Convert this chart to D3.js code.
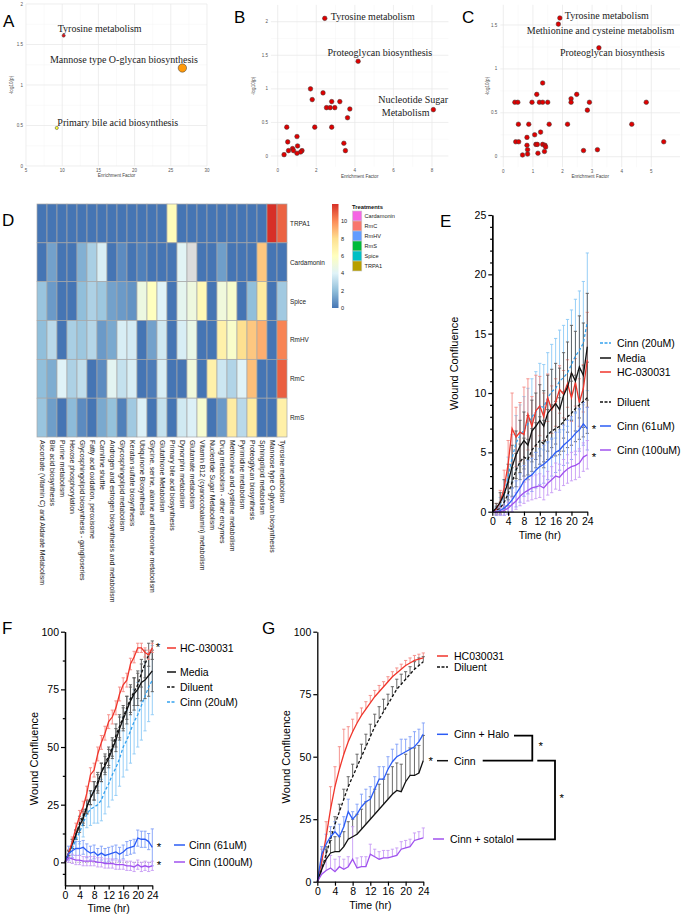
<!DOCTYPE html>
<html>
<head>
<meta charset="utf-8">
<script src="https://cdn.jsdelivr.net/npm/d3@7"></script>
<style>
  body { margin: 0; background: #fff; }
  svg { display: block; }
</style>
</head>
<body>
<svg id="SVG_CONTAINER" width="683" height="919"></svg>
<script>
// ---------------- data ----------------
// panel A
const aNames  = ["Tyrosine metabolism", "Mannose type O-glycan biosynthesis", "Primary bile acid biosynthesis"];
const aFactor = [10.2, 26.6, 9.25];
const aLogP   = [1.61, 1.21, 0.47];
const aHits   = [2, 14, 2];

// panel B (first three are labelled)
const bNames  = ["Tyrosine metabolism", "Proteoglycan biosynthesis", "Nucleotide Sugar|Metabolism"];
const bFactor = [2.44,4.17,8.07,1.70,1.79,2.35,2.53,2.72,2.80,2.96,3.22,3.74,3.62,1.92,2.80,0.47,1.00,0.52,1.03,0.77,0.56,0.82,1.26,1.19,1.00,0.33,3.43,3.51];
const bLogP   = [2.05,1.41,0.69,1.00,0.84,0.94,0.72,0.72,0.81,0.72,0.81,0.70,0.57,0.43,0.43,0.43,0.29,0.21,0.15,0.11,0.08,0.08,0.08,0.06,0.04,0.02,0.19,0.08];

// panel C
const cNames  = ["Tyrosine metabolism", "Methionine and cysteine metabolism", "Proteoglycan biosynthesis"];
const cFactor = [1.91,1.86,3.23,0.39,0.49,0.97,1.22,1.33,1.50,2.91,4.83,1.13,2.48,2.29,2.29,2.84,1.33,0.51,0.86,1.55,2.17,4.34,1.06,1.26,0.80,0.42,0.52,5.42,0.80,1.10,1.15,1.33,1.41,1.43,0.82,0.82,0.65,1.17,1.39,2.71,3.18];
const cLogP   = [1.58,1.51,1.24,0.62,0.62,0.62,0.62,0.62,0.62,0.62,0.62,0.71,0.71,0.66,0.62,0.53,0.84,0.37,0.37,0.37,0.37,0.37,0.25,0.28,0.22,0.17,0.17,0.17,0.13,0.14,0.14,0.14,0.13,0.11,0.08,0.03,0.02,0.04,0.06,0.07,0.08];

// panel D heatmap
const hmPathways = ["Ascorbate (Vitamin C) and Aldarate Metabolism","Bile acid biosynthesis","Purine metabolism",
  "Hexose phosphorylation","Glycosphingolipid biosynthesis - ganglioseries","Fatty acid oxidation, peroxisome",
  "Carnitine shuttle","Androgen and estrogen biosynthesis and metabolism","Glycosphingolipid metabolism",
  "Keratan sulfate biosynthesis","Ubiquinone Biosynthesis","Glycine, serine, alanine and threonine metabolism",
  "Glutathione Metabolism","Primary bile acid biosynthesis","Dynorphin metabolism","Glutamate metabolism",
  "Vitamin B12 (cyanocobalamin) metabolism","Nucleotide Sugar Metabolism","Drug metabolism - other enzymes",
  "Methionine and cysteine metabolism","Pyrimidine metabolism","Proteoglycan biosynthesis",
  "Sphingolipid metabolism","Mannose type O-glycan biosynthesis","Tyrosine metabolism"];
const hmRows = ["TRPA1", "Cardamonin", "Spice", "RmHV", "RmC", "RmS"];
const hmTRPA1      = [0,0,0,0,0,0,0,0,0,0,0,0,0,6.2,0,0,0,0,0,0,0,0,0,12.0,10.9];
const hmCardamonin = [0,1.2,0,0,1.6,2.6,3.8,0,0.6,0,0.3,0,0,0,4.1,null,0,0,1.1,0,0,0,8.6,0,0];
const hmSpice      = [2.2,1.0,0,0,2.0,2.7,2.3,1.2,1.0,0.8,4.8,6.0,4.0,0,4.3,4.9,6.4,0,5.0,5.5,0,2.0,7.3,0,2.4];
const hmRmHV       = [2.0,3.0,0,2.6,2.3,2.9,1.0,1.4,3.8,3.7,0,1.2,3.6,0,3.8,4.6,0,0,6.9,5.6,8.0,8.6,9.2,0,10.2];
const hmRmC        = [2.0,1.5,4.0,2.7,3.2,0,0.6,4.2,3.3,3.8,0,0.2,3.8,0,0,5.0,0,6.9,3.5,2.8,4.0,8.8,0,0,11.0];
const hmRmS        = [2.2,1.1,0,1.9,0.6,0,1.4,2.1,0.3,2.4,3.9,0,3.3,0,3.6,3.9,5.4,0,1.0,7.2,3.0,7.3,0,0,7.0];
const hmTicks = [0, 2, 4, 6, 8, 10];
const treatments = ["Cardamonin", "RmC", "RmHV", "RmS", "Spice", "TRPA1"];

// panels E, F, G : hours 0..24
const hours = d3.range(0, 25);

const eCinn20    = [0,0.2,0.6,1.5,3,4.5,5.8,6.4,6.9,7.4,8.0,8.4,8.9,8.8,9.6,10.1,10.4,11.0,11.3,11.7,12.4,13.1,13.6,14.2,16.0];
const eCinn20Err = [0,0.3,0.6,1.2,1.6,2,2.3,2.6,2.8,3,3.2,3.4,3.6,3.6,3.8,4,4.2,4.3,4.4,4.5,4.6,4.8,5,5.2,5.8];
const eMedia     = [0,0.3,0.8,1.5,2.5,3.8,4.8,5.5,6.0,5.6,6.8,7.2,7.7,7.2,8.3,8.7,9.1,8.6,9.8,10.5,11.7,11.0,12.2,11.5,13.9];
const eMediaErr  = [0,0.4,0.8,1.2,1.5,1.8,2.0,2.2,2.4,2.5,2.6,2.8,3.0,3.0,3.2,3.3,3.4,3.5,3.6,3.8,4.0,4.2,4.3,4.4,4.5];
const eHC        = [0,0.2,0.8,2.0,4.0,7.0,6.3,6.7,6.5,8.2,7.2,8.5,8.9,8.0,9.6,8.6,9.2,10.3,9.9,10.8,9.6,10.9,9.2,10.4,12.8];
const eHCErr     = [0,0.5,1,1.5,2,3,2.5,2.5,4,3,2.5,3,2.5,2,2,2,2,2,2,2,2,2,2,2,4];
const eDiluent   = [0,0.1,0.3,0.8,1.5,2.5,3.5,4.2,4.6,4.4,5.2,5.6,6.0,5.7,6.5,6.8,7.0,7.2,7.6,8.0,8.3,8.7,9.0,9.3,9.6];
const eDilErr    = [0,0.3,0.5,0.8,1,1.2,1.4,1.5,1.6,1.7,1.8,1.9,2,2,2.1,2.2,2.3,2.4,2.5,2.6,2.7,2.8,2.9,3,3];
const eCinn61    = [0,0,0.1,0.3,0.6,1.0,1.5,2.0,2.6,2.9,3.1,3.5,3.8,4.0,4.3,4.6,5.0,5.2,5.6,5.9,6.2,6.6,6.9,7.4,7.0];
const eCinn61Err = [0,0.3,0.4,0.6,0.8,1,1.1,1.2,1.3,1.4,1.4,1.5,1.5,1.6,1.6,1.6,1.7,1.7,1.7,1.8,1.8,1.8,1.8,1.8,1.8];
const eCinn100   = [0,0,0,0.1,0.3,0.6,0.9,1.3,1.6,1.8,2.0,2.1,2.2,2.0,2.4,2.7,3.0,2.9,3.3,3.6,3.8,3.9,4.1,4.6,4.8];
const eCinn100Err= [0,0.2,0.3,0.4,0.5,0.6,0.7,0.8,0.9,0.9,1,1,1,1,1,1.1,1.1,1.1,1.1,1.2,1.2,1.2,1.2,1.2,1.2];

const fHC        = [0,4,9,15,20,24,30,38,40,47,52,56,61,63,67,73,77,79,86,89,93,93,91,90,93];
const fHCErr     = [0,1.5,2,2,2.5,2.5,3,3,3,3,3,3,3,3,3,3,3,3,2.5,2.5,2,2,2,2,2];
const fMedia     = [0,4,8,12,16,19,24,28,31,34,39,42,45,49,53,58,62,66,70,73,75,78,79,81,83];
const fMediaErr  = [0,1,2,2,3,3,3,3,4,4,4,4,4,4,5,5,5,6,6,7,7,8,8,9,9];
const fDiluent   = [0,4,8,12,17,20,24,28,31,35,39,43,46,50,55,59,63,67,71,74,77,82,86,90,92];
const fDilErr    = [0,1,2,2,3,3,3,3,4,4,4,4,4,4,5,5,5,5,6,6,6,6,6,5,4];
const fCinn20    = [0,3,6,10,13,17,21,23,24,25,27,31,34,38,41,45,50,53,57,61,64,68,72,76,79];
const fCinn20Err = [0,2,3,4,5,6,6,7,7,8,9,10,10,11,12,12,13,13,14,14,14,15,15,15,15];
const fCinn61    = [0,4,5,6,6,6.5,5,4,4.5,3,4,3,3.5,4,4.5,3.5,4.5,6,6.5,7,10.5,10,10,9,6.5];
const fCinn61Err = [0,3,3,3,3,3,3,3,3,3,3,3,3,3,3,3,3,3,3,3,3.5,3.5,3.5,3.5,8];
const fCinn100   = [0,2,1.5,1,1,0.5,0.5,0.5,0.5,0,0,-0.5,-0.5,-0.5,-1,-1,-1,-1.5,-1.5,-2,-1,-2,-1.5,-2,-1.5];
const fCinn100Err= [0,2,2,2,2,2,2,2,2,2,2,2,2,2,2,2,2,2,2,2,2,2,2,2,2];

const gHC        = [0,8,18,29,38,45,51,56,60,63.5,66.5,69,71.5,74,76,78,80,82,83.5,85,86.5,87.5,88.5,89,89.5];
const gHCErr     = [0,5,6,9,8,9,10,6,5,4,3,3,3,2.5,2.5,2,2,2,2,2,2,2,2,2,2];
const gDiluent   = [0,5,11,17,23,28,33,38,42,46,50,54,58,62,65,68,71,74,77,79,81,83,85,86.5,88];
const gDilErr    = [0,2,3,3,3,3,4,4,5,5,5,5,5,5,5,5,4,4,4,4,3,3,3,3,2];
const gHalo      = [0,11,15,18,20,18,22,28,25,27,30,32,33,37,41,41,45,48,50,51,52,53,54,56,59];
const gHaloErr   = [0,3,4,4,4,5,4,5,3,4,5,5,5,5,5,5,5,5,5,6,5,5,6,5,4.5];
const gCinn      = [0,5,9,11.5,12,12,14,17,18,19,21,23,25,27,29,31,33,35,36.5,36,40,42.5,42.5,43.5,48.5];
const gCinnErr   = [0,4,4,5,6,6,6,7,7,8,8,9,9,10,10,10,10,11,11,11,11,11,11,11,10];
const gSotalol   = [0,3,4.5,5.5,4,6,5,6,9,5.5,6,6,11,10,9,9.5,9.5,10,10.5,13,13.5,14,16.5,17,17.5];
const gSotErr    = [0,3,5,5,5,4,4,4,13,4,4,4,4,3,3,3,3,3,3,3,3,3,3,3,4];

// ---------------- drawing ----------------
const SANS  = "'Liberation Sans', Arial, sans-serif";
const SERIF = "'Liberation Serif', 'Times New Roman', serif";
const RED = "#f0352b", RED_E = "#f48a84";
const LBLUE = "#34a2ef", LBLUE_E = "#8ccaf6";
const BLUE = "#2b5cf5", BLUE_E = "#809ff8";
const PURPLE = "#a052ee", PURPLE_E = "#c79cf5";
const BLACK = "#111", BLACK_E = "#5a5a5a";

var SVG = d3.select("#SVG_CONTAINER");

function letter(t, x, y) {
    SVG.append("text").attr("x", x).attr("y", y).text(t)
        .attr("font-family", SANS).attr("font-size", 17).attr("fill", "#000");
}

letter("A", 3, 27);
letter("B", 234, 23);
letter("C", 462, 23);
letter("D", 2, 226);
letter("E", 440, 227);
letter("F", 2, 634);
letter("G", 262, 634);

// scatter panels A, B, C
function scatterPanel(o) {
    var g = SVG.append("g");
    var x = d3.scaleLinear().domain(o.xRef).range(o.xPx);
    var y = d3.scaleLinear().domain(o.yRef).range(o.yPx);
    var x0 = x(o.xLim[0]), x1 = x(o.xLim[1]), y0 = y(o.yLim[0]), y1 = y(o.yLim[1]);

    // grid: minor first, then major
    var minorX = o.xTicks.slice(0, -1).map((d, i) => (d + o.xTicks[i + 1]) / 2);
    var minorY = o.yTicks.slice(0, -1).map((d, i) => (d + o.yTicks[i + 1]) / 2);
    g.selectAll(".mx").data(minorX).enter().append("line")
        .attr("x1", d => x(d)).attr("x2", d => x(d)).attr("y1", y0).attr("y2", y1)
        .attr("stroke", "#f4f4f4").attr("stroke-width", 0.5);
    g.selectAll(".my").data(minorY).enter().append("line")
        .attr("x1", x0).attr("x2", x1).attr("y1", d => y(d)).attr("y2", d => y(d))
        .attr("stroke", "#f4f4f4").attr("stroke-width", 0.5);
    g.selectAll(".gx").data(o.xTicks).enter().append("line")
        .attr("x1", d => x(d)).attr("x2", d => x(d)).attr("y1", y0).attr("y2", y1)
        .attr("stroke", "#e6e6e6").attr("stroke-width", 0.7);
    g.selectAll(".gy").data(o.yTicks).enter().append("line")
        .attr("x1", x0).attr("x2", x1).attr("y1", d => y(d)).attr("y2", d => y(d))
        .attr("stroke", "#e6e6e6").attr("stroke-width", 0.7);

    // tick labels
    g.selectAll(".tx").data(o.xTicks).enter().append("text")
        .attr("x", d => x(d)).attr("y", y0 + 5.5).attr("text-anchor", "middle")
        .attr("font-family", SANS).attr("font-size", 4.5).attr("fill", "#555")
        .text(d => d);
    g.selectAll(".ty").data(o.yTicks).enter().append("text")
        .attr("x", x0 - 3).attr("y", d => y(d) + 1.5).attr("text-anchor", "end")
        .attr("font-family", SANS).attr("font-size", 4.5).attr("fill", "#555")
        .text(d => d);
    g.append("text").attr("x", (x0 + x1) / 2).attr("y", y0 + 11)
        .attr("text-anchor", "middle").attr("font-family", SANS).attr("font-size", 4.6)
        .attr("fill", "#444").text("Enrichment Factor");
    g.append("text").attr("transform", "translate(" + o.yTitleX + "," + ((y0 + y1) / 2) + ") rotate(-90)")
        .attr("text-anchor", "middle").attr("font-family", SANS).attr("font-size", 4.6)
        .attr("fill", "#444").text("-log10(p)");

    // points
    g.selectAll("circle").data(o.fx).enter().append("circle")
        .attr("cx", d => x(d)).attr("cy", (d, i) => y(o.fy[i]))
        .attr("r", (d, i) => o.radius(i)).attr("fill", (d, i) => o.color(i))
        .attr("stroke", "#3a3a3a").attr("stroke-width", 0.5);

    // labels for the named pathways
    o.labels.forEach(function (lab) {
        var px = x(o.fx[lab.i]), py = y(o.fy[lab.i]);
        lab.text.split("|").forEach(function (line, k) {
            g.append("text").attr("x", px + lab.dx[k]).attr("y", py + lab.dy[k])
                .attr("dominant-baseline", "central").attr("font-family", SERIF)
                .attr("font-size", 10).attr("fill", "#222").text(line);
        });
    });
}

var aSize = d3.scaleSqrt().domain([0, d3.max(aHits)]).range([0, 4.2]);
var aCol = d3.scaleOrdinal().domain(aNames).range(["#e3121b", "#ff9a0a", "#ffff33"]);
scatterPanel({
    xRef: [5, 30], xPx: [26, 207], yRef: [0, 2], yPx: [166, 4],
    xLim: [5, 30], yLim: [0, 2],
    xTicks: [5, 10, 15, 20, 25, 30], yTicks: [0, 0.5, 1, 1.5, 2], yTitleX: 12.5,
    fx: aFactor, fy: aLogP,
    radius: i => aSize(aHits[i]), color: i => aCol(aNames[i]),
    labels: [
        { i: 0, text: aNames[0], dx: [-6], dy: [-7.4] },
        { i: 1, text: aNames[1], dx: [-132.4], dy: [-8.3] },
        { i: 2, text: aNames[2], dx: [0.6], dy: [-5.6] }
    ]
});

scatterPanel({
    xRef: [0, 8], xPx: [277.7, 432], yRef: [0, 2], yPx: [156, 21.7],
    xLim: [-0.35, 8.85], yLim: [-0.16, 2.25],
    xTicks: [0, 2, 4, 6, 8], yTicks: [0, 0.5, 1, 1.5, 2], yTitleX: 255,
    fx: bFactor, fy: bLogP,
    radius: i => 2.3, color: i => "#e00000",
    labels: [
        { i: 0, text: bNames[0], dx: [6], dy: [-1.6] },
        { i: 1, text: bNames[1], dx: [-30.6], dy: [-9] },
        { i: 2, text: bNames[2], dx: [-55, -51.6], dy: [-10, 2.7] }
    ]
});

scatterPanel({
    xRef: [0, 5], xPx: [503.3, 651.3], yRef: [0, 1.5], yPx: [156.7, 25],
    xLim: [-0.1, 5.97], yLim: [-0.12, 1.73],
    xTicks: [0, 1, 2, 3, 4, 5], yTicks: [0, 0.5, 1, 1.5], yTitleX: 489.3,
    fx: cFactor, fy: cLogP,
    radius: i => 2.3, color: i => "#e00000",
    labels: [
        { i: 0, text: cNames[0], dx: [5], dy: [-2.3] },
        { i: 1, text: cNames[1], dx: [-31.6], dy: [6.7] },
        { i: 2, text: cNames[2], dx: [-39], dy: [5] }
    ]
});

// heatmap D
(function () {
    var g = SVG.append("g");
    var hmValues = [hmTRPA1, hmCardamonin, hmSpice, hmRmHV, hmRmC, hmRmS];
    var hx = d3.scaleBand().domain(hmPathways).range([37, 287]);
    var hy = d3.scaleBand().domain(hmRows).range([204, 437]);
    var hColor = d3.scaleLinear().domain([0, 2, 4, 6, 8, 10, 12])
        .range(["#4575B4", "#91BFDB", "#E0F3F8", "#FFFFBF", "#FEE090", "#FC8D59", "#D73027"]);

    var cells = [];
    hmRows.forEach((r, ri) => hmPathways.forEach((p, pi) => cells.push({ r: r, p: p, v: hmValues[ri][pi] })));
    g.selectAll("rect.cell").data(cells).enter().append("rect")
        .attr("x", d => hx(d.p)).attr("y", d => hy(d.r))
        .attr("width", hx.bandwidth()).attr("height", hy.bandwidth())
        .attr("fill", d => d.v == null ? "#dcdcdc" : hColor(d.v))
        .attr("stroke", "#a6a6a6").attr("stroke-width", 0.7);

    g.selectAll("text.row").data(hmRows).enter().append("text")
        .attr("x", 290).attr("y", d => hy(d) + hy.bandwidth() / 2)
        .attr("dominant-baseline", "central").attr("font-family", SANS)
        .attr("font-size", 6.4).attr("fill", "#222").text(d => d);

    g.selectAll("text.col").data(hmPathways).enter().append("text")
        .attr("transform", d => "translate(" + (hx(d) + hx.bandwidth() / 2) + ",440) rotate(90)")
        .attr("dominant-baseline", "central").attr("font-family", SANS)
        .attr("font-size", 6.9).attr("fill", "#222").text(d => d);

    // colour bar
    var defs = SVG.append("defs");
    var grad = defs.append("linearGradient").attr("id", "hmgrad")
        .attr("x1", 0).attr("y1", 1).attr("x2", 0).attr("y2", 0);
    d3.range(0, 12.01, 0.5).forEach(v => grad.append("stop")
        .attr("offset", v / 12).attr("stop-color", hColor(v)));
    var cb = d3.scaleLinear().domain([0, 12]).range([308, 204]);
    g.append("rect").attr("x", 332).attr("y", 204).attr("width", 6.5).attr("height", 104)
        .attr("fill", "url(#hmgrad)");
    g.selectAll("text.cb").data(hmTicks).enter().append("text")
        .attr("x", 341).attr("y", d => cb(d)).attr("dominant-baseline", "central")
        .attr("font-family", SANS).attr("font-size", 5.6).attr("fill", "#222").text(d => d);

    // treatments legend
    var tCol = d3.scaleOrdinal().domain(treatments)
        .range(["#F564E3", "#F8766D", "#619CFF", "#00BA38", "#00BFC4", "#B79F00"]);
    g.append("text").attr("x", 352).attr("y", 209).attr("font-family", SANS)
        .attr("font-size", 5.8).attr("font-weight", "bold").attr("fill", "#111").text("Treatments");
    g.selectAll("rect.tr").data(treatments).enter().append("rect")
        .attr("x", 352.5).attr("y", (d, i) => 211 + i * 10).attr("width", 9.3).attr("height", 10)
        .attr("fill", d => tCol(d)).attr("stroke", "#c8c8c8").attr("stroke-width", 0.6);
    g.selectAll("text.tr").data(treatments).enter().append("text")
        .attr("x", 364.5).attr("y", (d, i) => 216 + i * 10).attr("dominant-baseline", "central")
        .attr("font-family", SANS).attr("font-size", 5.6).attr("fill", "#222").text(d => d);
})();

// line panels E, F, G
function errorBars(g, x, y, v, e, color, both) {
    var eg = g.append("g").attr("stroke", color).attr("stroke-width", 0.9).attr("fill", "none");
    hours.forEach(function (t, i) {
        if (!e[i]) return;
        var hi = y(v[i] + e[i]), lo = both ? y(v[i] - e[i]) : y(v[i]);
        eg.append("line").attr("x1", x(t)).attr("x2", x(t)).attr("y1", lo).attr("y2", hi);
        eg.append("line").attr("x1", x(t) - 1.6).attr("x2", x(t) + 1.6).attr("y1", hi).attr("y2", hi);
        if (both) eg.append("line").attr("x1", x(t) - 1.6).attr("x2", x(t) + 1.6).attr("y1", lo).attr("y2", lo);
    });
}

function styleAxis(ax, fs) {
    ax.select(".domain").attr("stroke", "#000").attr("stroke-width", 1.3);
    ax.selectAll(".tick line").attr("stroke", "#000").attr("stroke-width", 1.2);
    ax.selectAll(".tick text").attr("font-family", SANS).attr("font-size", fs).attr("fill", "#000");
}

function linePanel(o) {
    var g = SVG.append("g");
    var x = d3.scaleLinear().domain([0, 24]).range(o.xPx);
    var y = d3.scaleLinear().domain(o.yDom).range(o.yPx);

    if (o.zeroLine) {
        g.append("line").attr("x1", x(0)).attr("x2", x(24)).attr("y1", y(0)).attr("y2", y(0))
            .attr("stroke", "#888").attr("stroke-width", 0.8).attr("stroke-dasharray", "1,1.5");
    }

    o.series.forEach(s => errorBars(g, x, y, s.v, s.e, s.ecol, o.both));
    var line = d3.line().x((d, i) => x(hours[i])).y(d => y(d));
    o.series.forEach(function (s) {
        g.append("path").attr("d", line(s.v)).attr("fill", "none")
            .attr("stroke", s.col).attr("stroke-width", 1.3)
            .attr("stroke-dasharray", s.dash ? "3,2" : null);
    });

    var yAx = g.append("g").attr("transform", "translate(" + x(0) + ",0)")
        .call(d3.axisLeft(y).tickValues(o.yTicks).tickSize(4).tickSizeOuter(0).tickPadding(2));
    styleAxis(yAx, o.fs);
    if (o.yMinor) {
        var ym = g.append("g").attr("transform", "translate(" + x(0) + ",0)")
            .call(d3.axisLeft(y).tickValues(o.yMinor).tickSize(2.2).tickSizeOuter(0).tickFormat(""));
        styleAxis(ym, o.fs);
    }
    var xAx = g.append("g").attr("transform", "translate(0," + y(o.yDom[0]) + ")")
        .call(d3.axisBottom(x).tickValues([0, 4, 8, 12, 16, 20, 24]).tickSize(4).tickSizeOuter(0).tickPadding(2));
    styleAxis(xAx, o.fs);

    g.append("text").attr("x", (o.xPx[0] + o.xPx[1]) / 2).attr("y", y(o.yDom[0]) + 27)
        .attr("text-anchor", "middle").attr("font-family", SANS).attr("font-size", 10.5)
        .attr("fill", "#000").text("Time (hr)");
    g.append("text")
        .attr("transform", "translate(" + o.yTitleX + "," + ((o.yPx[0] + o.yPx[1]) / 2) + ") rotate(-90)")
        .attr("text-anchor", "middle").attr("font-family", SANS).attr("font-size", 11)
        .attr("fill", "#000").text("Wound Confluence");

    // legend
    o.legend.forEach(function (l) {
        g.append("line").attr("x1", l.x0).attr("x2", l.x1).attr("y1", l.y).attr("y2", l.y)
            .attr("stroke", l.col).attr("stroke-width", 1.5)
            .attr("stroke-dasharray", l.dash ? "3,1.5" : null);
        g.append("text").attr("x", l.tx).attr("y", l.y).attr("dominant-baseline", "central")
            .attr("font-family", SANS).attr("font-size", 10.5).attr("fill", "#000").text(l.text);
    });
    (o.stars || []).forEach(function (s) {
        g.append("text").attr("x", s[0]).attr("y", s[1] + 5).attr("text-anchor", "middle")
            .attr("font-family", SANS).attr("font-size", 11.5).attr("fill", "#000").text("*");
    });
    return g;
}

linePanel({
    xPx: [492.3, 587.3], yDom: [0, 25], yPx: [511.7, 215], fs: 10.5,
    yTicks: [0, 5, 10, 15, 20, 25], yMinor: d3.range(0, 26).filter(d => d % 5), yTitleX: 458,
    both: true,
    series: [
        { v: eCinn20, e: eCinn20Err, col: LBLUE, ecol: LBLUE_E, dash: true },
        { v: eHC, e: eHCErr, col: RED, ecol: RED_E },
        { v: eMedia, e: eMediaErr, col: BLACK, ecol: BLACK_E },
        { v: eDiluent, e: eDilErr, col: BLACK, ecol: BLACK_E, dash: true },
        { v: eCinn61, e: eCinn61Err, col: BLUE, ecol: BLUE_E },
        { v: eCinn100, e: eCinn100Err, col: PURPLE, ecol: PURPLE_E }
    ],
    legend: [
        { text: "Cinn (20uM)", y: 343, col: LBLUE, dash: true, x0: 600, x1: 611, tx: 617 },
        { text: "Media", y: 358, col: BLACK, x0: 600, x1: 611, tx: 617 },
        { text: "HC-030031", y: 372, col: RED, x0: 600, x1: 611, tx: 617 },
        { text: "Diluent", y: 402, col: BLACK, dash: true, x0: 600, x1: 611, tx: 617 },
        { text: "Cinn (61uM)", y: 426, col: BLUE, x0: 600, x1: 611, tx: 617 },
        { text: "Cinn (100uM)", y: 450, col: PURPLE, x0: 600, x1: 611, tx: 617 }
    ],
    stars: [[594, 428], [594, 456]]
});

linePanel({
    xPx: [65, 152.3], yDom: [-10, 100], yPx: [885.4, 631.7], fs: 10.5,
    yTicks: [0, 25, 50, 75, 100], yMinor: [-5, 12.5, 37.5, 62.5, 87.5], yTitleX: 38,
    both: true, zeroLine: true,
    series: [
        { v: fCinn20, e: fCinn20Err, col: LBLUE, ecol: LBLUE_E, dash: true },
        { v: fMedia, e: fMediaErr, col: BLACK, ecol: BLACK_E },
        { v: fDiluent, e: fDilErr, col: BLACK, ecol: BLACK_E, dash: true },
        { v: fHC, e: fHCErr, col: RED, ecol: RED_E },
        { v: fCinn61, e: fCinn61Err, col: BLUE, ecol: BLUE_E },
        { v: fCinn100, e: fCinn100Err, col: PURPLE, ecol: PURPLE_E }
    ],
    legend: [
        { text: "HC-030031", y: 648, col: RED, x0: 167, x1: 176, tx: 180 },
        { text: "Media", y: 672, col: BLACK, x0: 167, x1: 176, tx: 180 },
        { text: "Diluent", y: 687, col: BLACK, dash: true, x0: 167, x1: 176, tx: 180 },
        { text: "Cinn (20uM)", y: 702, col: LBLUE, dash: true, x0: 167, x1: 176, tx: 180 },
        { text: "Cinn (61uM)", y: 845, col: BLUE, x0: 174, x1: 185, tx: 189 },
        { text: "Cinn (100uM)", y: 862, col: PURPLE, x0: 174, x1: 185, tx: 189 }
    ],
    stars: [[158, 646], [159, 846], [159, 864]]
});

var gPanel = linePanel({
    xPx: [317.3, 423.3], yDom: [0, 100], yPx: [881.7, 631.7], fs: 10.5,
    yTicks: [0, 25, 50, 75, 100], yTitleX: 290,
    both: false,
    series: [
        { v: gHC, e: gHCErr, col: RED, ecol: RED_E },
        { v: gDiluent, e: gDilErr, col: BLACK, ecol: BLACK_E, dash: true },
        { v: gCinn, e: gCinnErr, col: BLACK, ecol: BLACK_E },
        { v: gHalo, e: gHaloErr, col: BLUE, ecol: BLUE_E },
        { v: gSotalol, e: gSotErr, col: PURPLE, ecol: PURPLE_E }
    ],
    legend: [
        { text: "HC030031", y: 656, col: RED, x0: 437, x1: 448, tx: 454 },
        { text: "Diluent", y: 667, col: BLACK, dash: true, x0: 437, x1: 448, tx: 454 },
        { text: "Cinn + Halo", y: 734.3, col: BLUE, x0: 437, x1: 448, tx: 454 },
        { text: "Cinn", y: 760.7, col: BLACK, x0: 437, x1: 448, tx: 454 },
        { text: "Cinn + sotalol", y: 839, col: PURPLE, x0: 433, x1: 444, tx: 450 }
    ],
    stars: [[430.7, 760], [540.7, 745], [561.7, 797]]
});

// significance brackets in G
gPanel.append("path").attr("d", "M514,735.7H532.3V760.7H482.7")
    .attr("fill", "none").attr("stroke", "#000").attr("stroke-width", 1.8);
gPanel.append("path").attr("d", "M537.3,760.7H555V839.3H516.7")
    .attr("fill", "none").attr("stroke", "#000").attr("stroke-width", 1.8);
</script>
</body>
</html>
